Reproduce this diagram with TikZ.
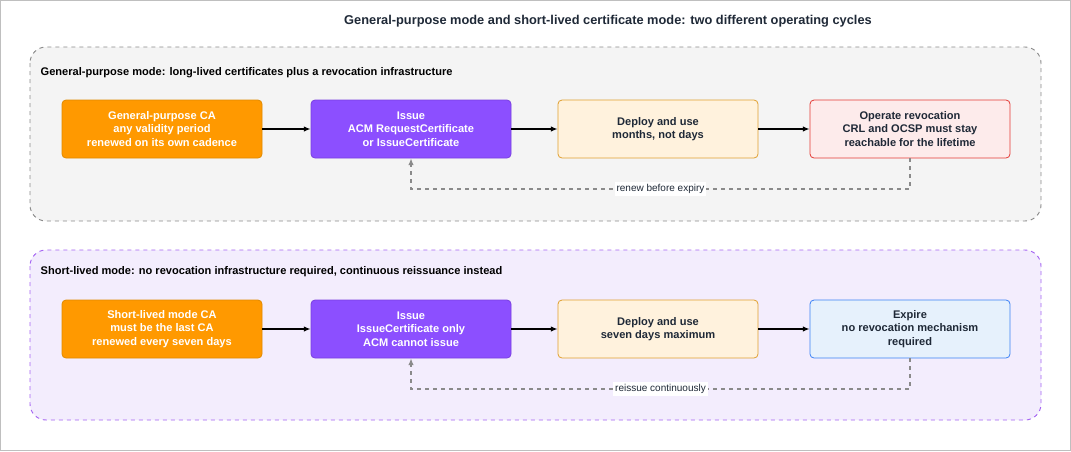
\documentclass[tikz,border=0pt]{standalone}
\usepackage{fontspec}
\setmainfont{Liberation Sans}
\usetikzlibrary{arrows.meta}
\definecolor{aws}{HTML}{FF9900}
\definecolor{awsline}{HTML}{E08A00}
\definecolor{purp}{HTML}{8C4FFF}
\definecolor{purpline}{HTML}{7A3FE0}
\definecolor{cream}{HTML}{FFF2DD}
\definecolor{creamline}{HTML}{E0A030}
\definecolor{pinkf}{HTML}{FDEBEB}
\definecolor{redl}{HTML}{E53935}
\definecolor{bluef}{HTML}{E6F1FC}
\definecolor{bluel}{HTML}{3B82F6}
\definecolor{grpf}{HTML}{F4F4F4}
\definecolor{grpl}{HTML}{8A8A8A}
\definecolor{grp2f}{HTML}{F3EDFD}
\definecolor{grp2l}{HTML}{A463F2}
\definecolor{txt}{HTML}{1F2937}
\tikzset{
 x=0.75pt,y=-0.75pt,
 box/.style={rounded corners=3pt,minimum width=150pt,minimum height=43.5pt,align=center,font=\fontsize{8.3}{10}\selectfont\bfseries,line width=0.6pt},
 dark/.style={box,text=white},
 light/.style={box,text=txt},
 flow/.style={-{Latex[length=5pt,width=4pt]},line width=0.9pt,black},
 back/.style={-{Latex[length=5pt,width=4pt]},dashed,line width=0.8pt,grpl},
 grp/.style={rounded corners=12pt,dashed,line width=0.7pt},
 glab/.style={anchor=west,font=\fontsize{8.3}{10}\selectfont\bfseries,text=black},
 blab/.style={fill=white,inner sep=1.5pt,font=\fontsize{7.5}{9}\selectfont,text=txt}
}
\begin{document}
\begin{tikzpicture}
\useasboundingbox (0,0) rectangle (1071,451);
\draw[gray!50,line width=0.6pt] (0.5,0.5) rectangle (1070.5,450.5);
\node[font=\fontsize{9.6}{12}\selectfont\bfseries,text=txt] (title) at (608,21) {General-purpose mode and short-lived certificate mode: two different operating cycles};
\draw[grp,draw=grpl,fill=grpf] (30,47) rectangle (1041,221);
\node[glab] (g1) at (36,73) {General-purpose mode: long-lived certificates plus a revocation infrastructure};
\draw[grp,draw=grp2l,fill=grp2f] (30,250) rectangle (1041,420);
\node[glab] (g2) at (36,272) {Short-lived mode: no revocation infrastructure required, continuous reissuance instead};

\node[dark,fill=aws,draw=awsline] (a1) at (162,129) {General-purpose CA\\any validity period\\renewed on its own cadence};
\node[dark,fill=purp,draw=purpline] (a2) at (411,129) {Issue\\ACM RequestCertificate\\or IssueCertificate};
\node[light,fill=cream,draw=creamline] (a3) at (658,129) {Deploy and use\\months, not days};
\node[light,fill=pinkf,draw=redl] (a4) at (910,129) {Operate revocation\\CRL and OCSP must stay\\reachable for the lifetime};
\draw[flow] (a1) -- (a2);
\draw[flow] (a2) -- (a3);
\draw[flow] (a3) -- (a4);
\coordinate (r1) at (910,189);
\coordinate (r2) at (411,189);
\draw[back] (a4.south) -- (r1) -- node[blab]{renew before expiry} (r2) -- (a2.south);

\node[dark,fill=aws,draw=awsline] (b1) at (162,329) {Short-lived mode CA\\must be the last CA\\renewed every seven days};
\node[dark,fill=purp,draw=purpline] (b2) at (411,329) {Issue\\IssueCertificate only\\ACM cannot issue};
\node[light,fill=cream,draw=creamline] (b3) at (658,329) {Deploy and use\\seven days maximum};
\node[light,fill=bluef,draw=bluel] (b4) at (910,329) {Expire\\no revocation mechanism\\required};
\draw[flow] (b1) -- (b2);
\draw[flow] (b2) -- (b3);
\draw[flow] (b3) -- (b4);
\coordinate (s1) at (910,389);
\coordinate (s2) at (411,389);
\draw[back] (b4.south) -- (s1) -- node[blab]{reissue continuously} (s2) -- (b2.south);
\end{tikzpicture}
\end{document}
